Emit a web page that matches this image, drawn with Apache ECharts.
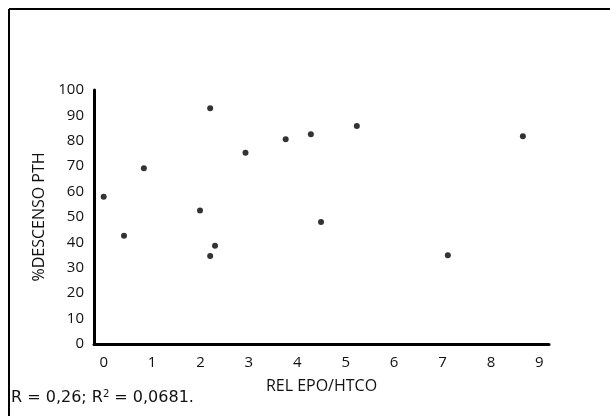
<!DOCTYPE html>
<html>
<head>
<meta charset="utf-8">
<script src="https://cdn.jsdelivr.net/npm/echarts@6/dist/echarts.min.js"></script>
<style>
  html, body { margin: 0; padding: 0; background: #fff; }
  #chart { width: 610px; height: 416px; }
</style>
</head>
<body>
<div id="chart"></div>
<script>
// REL EPO/HTCO vs %DESCENSO PTH
const relEpo = [0.0, 0.42, 0.83, 1.99, 2.20, 2.20, 2.30, 2.93, 3.76, 4.28, 4.49, 5.23, 7.11, 8.66];
const descensoPth = [58.0, 42.6, 69.2, 52.6, 92.8, 34.6, 38.7, 75.3, 80.6, 82.6, 48.0, 85.8, 34.9, 81.8];
const xTicks = [0, 1, 2, 3, 4, 5, 6, 7, 8, 9];

const font = '"Open Sans", "DejaVu Sans", sans-serif';

function renderChart() {
    const chart = echarts.init(document.getElementById('chart'));
    const points = relEpo.map((x, i) => [x, descensoPth[i]]);

    const option = {
        backgroundColor: '#fff',
        animation: false,
        grid: { left: 94, right: 61, top: 90, bottom: 72 },
        xAxis: {
            type: 'value',
            min: -0.2,
            max: 9.2,
            name: 'REL EPO/HTCO',
            nameLocation: 'middle',
            nameGap: 34,
            nameTextStyle: { color: '#111', fontSize: 16, fontFamily: font },
            axisLine: { show: true, lineStyle: { color: '#000', width: 3 } },
            axisTick: { show: false },
            splitLine: { show: false },
            axisLabel: {
                customValues: xTicks,
                color: '#111',
                fontSize: 15,
                fontFamily: font,
                margin: 11
            }
        },
        yAxis: {
            type: 'value',
            min: 0,
            max: 100,
            interval: 10,
            name: '%DESCENSO PTH',
            nameLocation: 'middle',
            nameGap: 47,
            nameRotate: 90,
            nameTextStyle: { color: '#111', fontSize: 16, fontFamily: font },
            axisLine: { show: true, onZero: false, lineStyle: { color: '#000', width: 3 } },
            axisTick: { show: false },
            splitLine: { show: false },
            axisLabel: { color: '#111', fontSize: 15, fontFamily: font, margin: 10 }
        },
        series: [{
            type: 'scatter',
            data: points,
            symbol: 'circle',
            symbolSize: 6,
            itemStyle: { color: '#000' }
        }],
        graphic: [
            { type: 'line', shape: { x1: 9, y1: 9, x2: 610, y2: 9 }, style: { stroke: '#000', lineWidth: 2 } },
            { type: 'line', shape: { x1: 9, y1: 9, x2: 9, y2: 416 }, style: { stroke: '#000', lineWidth: 2 } },
            {
                type: 'text',
                left: 11,
                top: 389,
                style: {
                    text: '{t|R = 0,26; R}{s|2}{t| = 0,0681.}',
                    rich: {
                        t: { fontSize: 16, fontFamily: '"DejaVu Sans", sans-serif', fill: '#111' },
                        s: { fontSize: 10, fontFamily: '"DejaVu Sans", sans-serif', fill: '#111', verticalAlign: 'top', padding: [0, 0, 7, 0] }
                    }
                }
            }
        ]
    };

    chart.setOption(option);
}

renderChart();
</script>
</body>
</html>
